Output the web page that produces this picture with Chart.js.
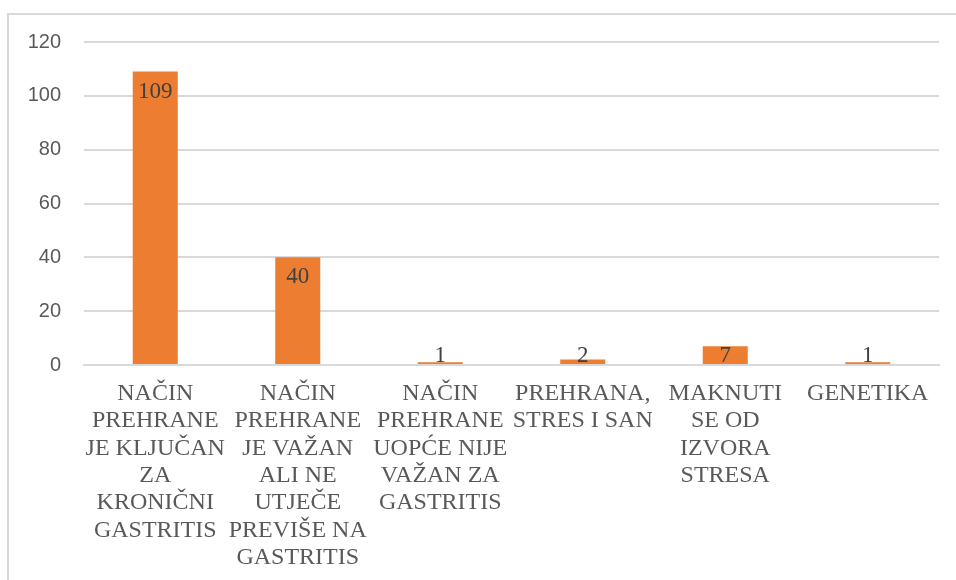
<!DOCTYPE html>
<html>
<head>
<meta charset="utf-8">
<script src="https://cdn.jsdelivr.net/npm/chart.js@4/dist/chart.umd.min.js"></script>
<style>
  html, body { margin: 0; padding: 0; background: #fff; }
  #wrap { position: relative; width: 956px; height: 580px; overflow: hidden; }
  #frame { position: absolute; left: 7px; top: 13px; width: 960px; height: 580px;
           border-left: 2px solid #d9d9d9; border-top: 2px solid #d9d9d9; box-sizing: border-box; }
  canvas { position: absolute; left: 0; top: 0; }
</style>
</head>
<body>
<div id="wrap">
  <div id="frame"></div>
  <canvas id="c" width="956" height="580"></canvas>
</div>
<script>
const categories = [
  ["NAČIN", "PREHRANE", "JE KLJUČAN", "ZA", "KRONIČNI", "GASTRITIS"],
  ["NAČIN", "PREHRANE", "JE VAŽAN", "ALI NE", "UTJEČE", "PREVIŠE NA", "GASTRITIS"],
  ["NAČIN", "PREHRANE", "UOPĆE NIJE", "VAŽAN ZA", "GASTRITIS"],
  ["PREHRANA,", "STRES I SAN"],
  ["MAKNUTI", "SE OD", "IZVORA", "STRESA"],
  ["GENETIKA"]
];
const values = [109, 40, 1, 2, 7, 1];
const yTicks = [0, 20, 40, 60, 80, 100, 120];

const labelPlugin = {
  id: 'valueLabels',
  afterDatasetsDraw(chart) {
    const ctx = chart.ctx;
    const meta = chart.getDatasetMeta(0);
    const axisY = chart.scales.y.getPixelForValue(0);
    ctx.save();
    ctx.font = '23px "Liberation Serif", "Times New Roman", serif';
    ctx.fillStyle = '#404040';
    ctx.textAlign = 'center';
    ctx.textBaseline = 'middle';
    meta.data.forEach((bar, i) => {
      const y = Math.min(bar.y + 20, axisY - 9);
      ctx.fillText(String(values[i]), bar.x, y);
    });
    ctx.restore();
  }
};

new Chart(document.getElementById('c'), {
  type: 'bar',
  data: {
    labels: categories,
    datasets: [{
      data: values,
      backgroundColor: '#ED7D31',
      borderWidth: 0,
      categoryPercentage: 1,
      barPercentage: 0.316
    }]
  },
  options: {
    responsive: false,
    animation: false,
    devicePixelRatio: 1,
    layout: { padding: { left: 0, top: 42, right: 17, bottom: 0 } },
    plugins: { legend: { display: false }, tooltip: { enabled: false } },
    scales: {
      x: {
        grid: { display: false, drawTicks: false },
        border: { display: true, color: '#d9d9d9', width: 2 },
        ticks: {
          color: '#595959',
          font: { family: '"Liberation Serif", "Times New Roman", serif', size: 24, lineHeight: 1.14 },
          padding: 15,
          maxRotation: 0,
          minRotation: 0,
          autoSkip: false
        },
        afterFit(scale) { scale.height = 215; }
      },
      y: {
        min: 0,
        max: 120,
        afterBuildTicks(scale) { scale.ticks = yTicks.map(v => ({ value: v })); },
        grid: { color: '#d9d9d9', lineWidth: 2, drawTicks: false },
        border: { display: false },
        ticks: {
          color: '#595959',
          font: { family: '"Liberation Sans", Arial, sans-serif', size: 20 },
          padding: 23
        },
        afterFit(scale) { scale.width = 84; }
      }
    }
  },
  plugins: [labelPlugin]
});
</script>
</body>
</html>
